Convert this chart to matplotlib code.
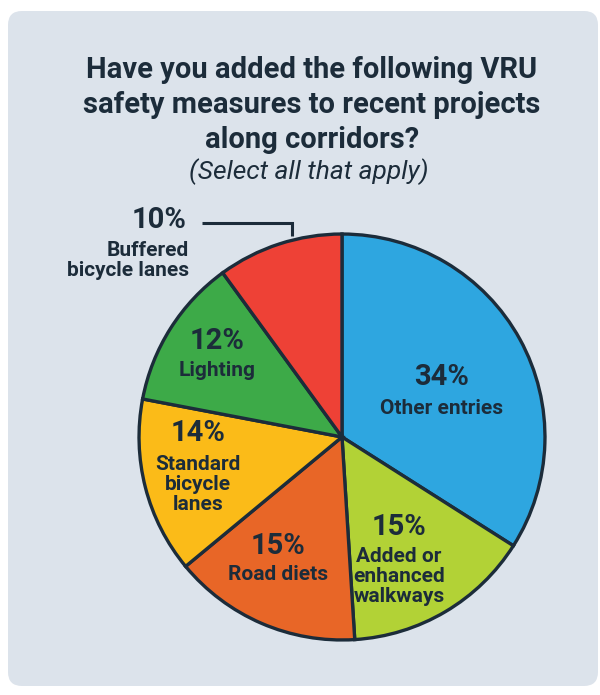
import matplotlib
matplotlib.use("Agg")
import matplotlib.pyplot as plt
from matplotlib.patches import FancyBboxPatch

# survey shares, clockwise from 12 o'clock
labels = ["Other entries", "Added or\nenhanced\nwalkways", "Road diets",
          "Standard\nbicycle\nlanes", "Lighting", "Buffered\nbicycle lanes"]
shares = [34, 15, 15, 14, 12, 10]
colors = ["#2ea6e0", "#b2d236", "#e86627", "#fbbb18", "#3daa48", "#ee4136"]

INK = "#1c2c3a"
PANEL = "#dce3eb"
W, H = 600, 695

plt.rcParams["font.family"] = ["Roboto", "DejaVu Sans"]

fig = plt.figure(figsize=(W / 100, H / 100), dpi=100)
fig.patch.set_facecolor("white")


def pixel_axes(z):
    ax = fig.add_axes([0, 0, 1, 1], zorder=z)
    ax.set_xlim(0, W)
    ax.set_ylim(H, 0)
    ax.axis("off")
    ax.patch.set_alpha(0)
    return ax


# background panel
bg = pixel_axes(0)
bg.add_patch(FancyBboxPatch((8, 11), 590, 675,
                            boxstyle="round,pad=0,rounding_size=14",
                            fc=PANEL, ec="none"))

# pie: centre (342, 437), radius 205 px
cx, cy, r = 342, 437, 205
pax = fig.add_axes([(cx - r) / W, (H - cy - r) / H, 2 * r / W, 2 * r / H], zorder=1)
pax.patch.set_alpha(0)
pax.pie(shares, colors=colors, startangle=90, counterclock=False,
        wedgeprops=dict(edgecolor=INK, linewidth=2.4))
pax.set_xlim(-1.01, 1.01)
pax.set_ylim(-1.01, 1.01)
pax.axis("off")

# text layer on top
tx = pixel_axes(2)
title = ["Have you added the following VRU",
         "safety measures to recent projects",
         "along corridors?"]
for k, line in enumerate(title):
    tx.text(312, 67 + k * 35, line, ha="center", va="center_baseline",
            fontsize=21, fontweight="bold", color=INK)
tx.text(309, 172, "(Select all that apply)", ha="center", va="center",
        fontsize=19, style="italic", color=INK)

# (x, y of the % figure, y of the first caption line) in pixels
anchors = [(442, 377, 406), (399, 527, 554), (278, 546, 572),
           (198, 433, 462), (217, 341, 369), (159, 220, 248)]
for i, (lab, v, (x, y, y1)) in enumerate(zip(labels, shares, anchors)):
    tx.text(x, y, f"{v}%", ha="center", va="center", fontsize=21,
            fontweight="bold", color=INK)
    lx, ha = (189, "right") if i == 5 else (x, "center")
    for k, line in enumerate(lab.split("\n")):
        tx.text(lx, y1 + k * 20.5, line, ha=ha, va="center_baseline",
                fontsize=15, fontweight="bold", color=INK)

# leader line for the small slice
tx.plot([202, 292, 292], [223, 223, 236], color=INK, lw=2.2,
        solid_capstyle="butt", solid_joinstyle="miter")

fig.savefig("out.png", dpi=100, facecolor=fig.get_facecolor())
